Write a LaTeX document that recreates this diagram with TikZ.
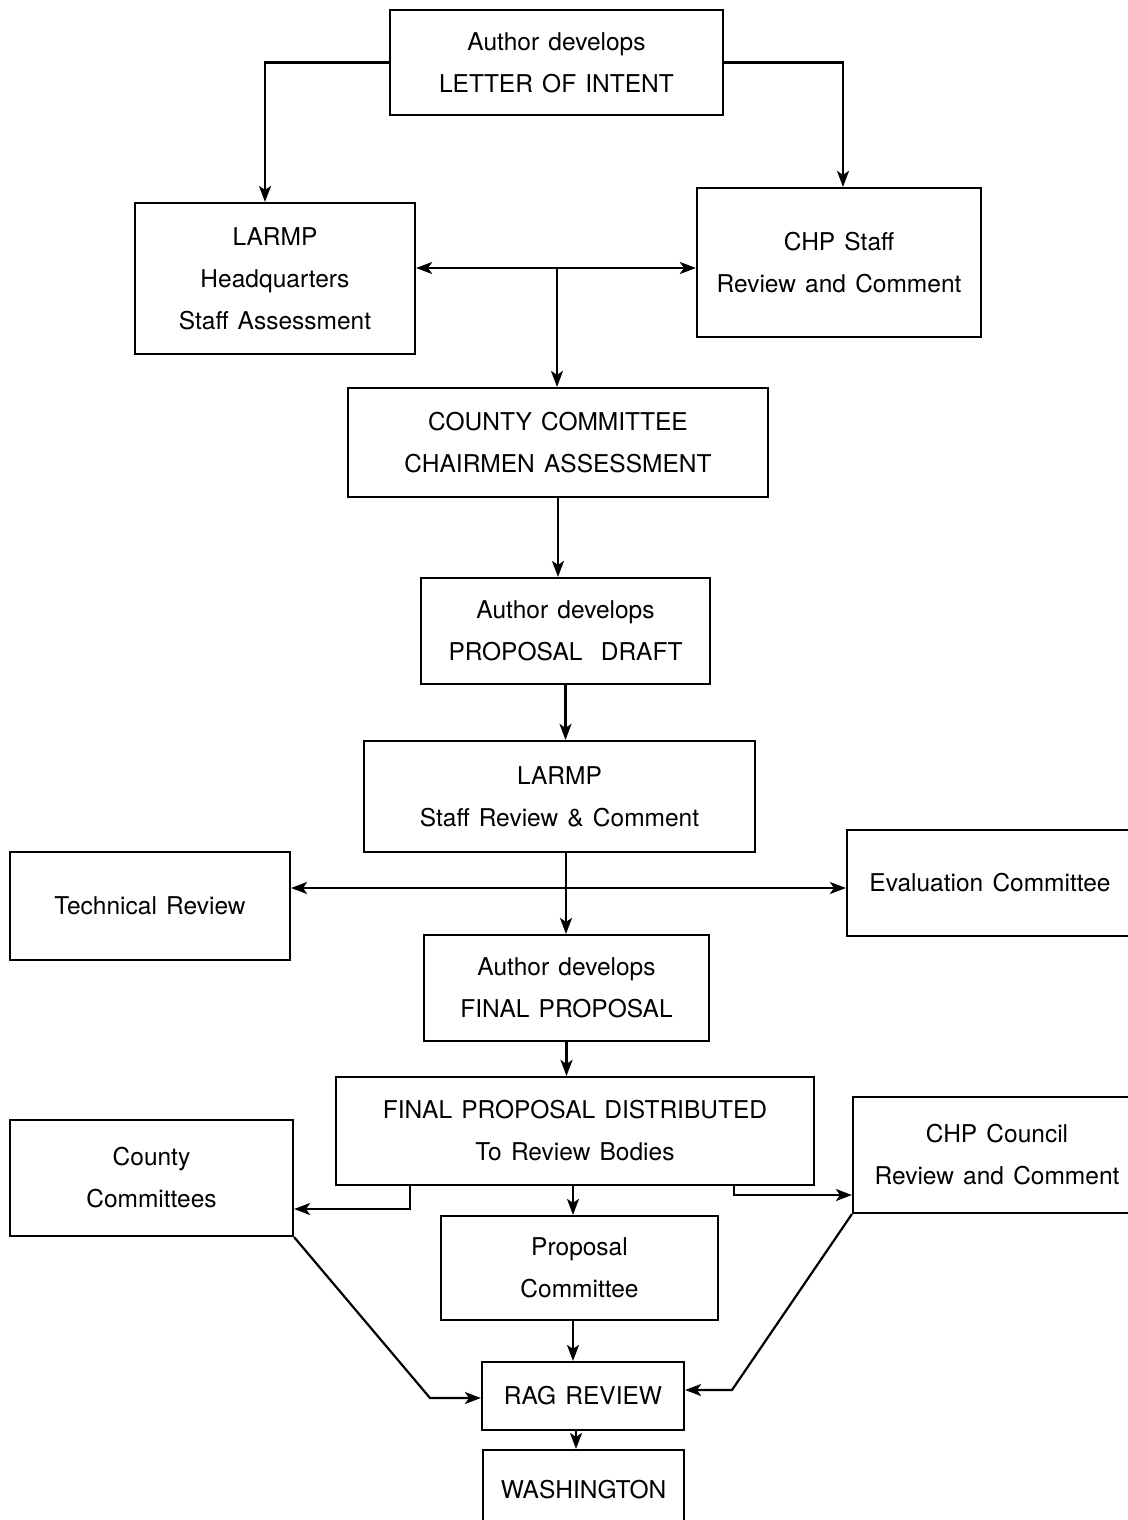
\documentclass[tikz,border=0pt]{standalone}
\usepackage{fontspec}
\setmainfont{TeX Gyre Heros}[WordSpace=1.35]
\usetikzlibrary{arrows.meta}
\newcommand\myboxfont{\fontsize{24.5}{42}\selectfont}
\begin{document}
\begin{tikzpicture}[x=1pt,y=-1pt,
  box/.style={draw, line width=2.2pt, align=center, inner sep=0pt, font=\myboxfont},
  arr/.style={line width=2.2pt, -{Stealth[length=16pt,width=12pt,inset=4pt]}},
  ln/.style={line width=2.2pt}]
\useasboundingbox (0,0) rectangle (1127,1520);
\fill[white] (0,0) rectangle (1127,1520);

\node[box, minimum width=333pt, minimum height=105pt] (loi) at (556.5,62.5) {Author develops\\LETTER OF INTENT};
\node[box, minimum width=280pt, minimum height=151pt] (hq) at (275,278.5) {LARMP\\Headquarters\\Staff Assessment};
\node[box, minimum width=284pt, minimum height=149pt] (chp) at (839,262.5) {CHP Staff\\Review and Comment};
\node[box, minimum width=420pt, minimum height=109pt] (cc) at (558,442.5) {COUNTY COMMITTEE\\CHAIRMEN ASSESSMENT};
\node[box, minimum width=289pt, minimum height=106pt] (dft) at (565.5,631) {Author develops\\PROPOSAL\ \ DRAFT};
\node[box, minimum width=391pt, minimum height=111pt] (lsr) at (559.5,796.5) {LARMP\\Staff Review \& Comment};
\node[box, minimum width=280pt, minimum height=108pt] (tech) at (150,906) {Technical Review};
\node[box, minimum width=286pt, minimum height=106pt] (eval) at (990,883) {Evaluation Committee};
\node[box, minimum width=285pt, minimum height=106pt] (fin) at (566.5,988) {Author develops\\FINAL PROPOSAL};
\node[box, minimum width=478pt, minimum height=108pt] (dist) at (575,1131) {FINAL PROPOSAL DISTRIBUTED\\To Review Bodies};
\node[box, minimum width=283pt, minimum height=116pt] (cty) at (151.5,1178) {County\\Committees};
\node[box, minimum width=288pt, minimum height=116pt] (chpc) at (997,1155) {CHP Council\\Review and Comment};
\node[box, minimum width=277pt, minimum height=104pt] (pc) at (579.5,1268) {Proposal\\Committee};
\node[box, minimum width=202pt, minimum height=68pt] (rag) at (583,1396) {RAG REVIEW};
\node[box, minimum width=201pt, minimum height=80pt] (wash) at (583.5,1490) {WASHINGTON};

\draw[arr] (loi.west) -| ([xshift=-10pt]hq.north);
\draw[arr] (loi.east) -| ([xshift=4pt]chp.north);
\coordinate (m1) at (557,268);
\draw[arr] (m1) -- (m1 -| hq.east);
\draw[arr] (m1) -- (m1 -| chp.west);
\draw[arr] (m1) -- (m1 |- cc.north);
\draw[arr] (cc.south) -- (cc.south |- dft.north);
\draw[arr] (dft.south) -- (dft.south |- lsr.north);
\coordinate (m2) at (566,888);
\draw[ln] (m2 |- lsr.south) -- (m2);
\draw[arr] (m2) -- (m2 |- fin.north);
\draw[arr] (m2) -- (m2 -| tech.east);
\draw[arr] (m2) -- (m2 -| eval.west);
\draw[arr] (fin.south) -- (fin.south |- dist.north);
\coordinate (d1) at (410,1209);
\draw[arr] (d1 |- dist.south) -- (d1) -- (d1 -| cty.east);
\coordinate (d2) at (734,1195);
\draw[arr] (d2 |- dist.south) -- (d2) -- (d2 -| chpc.west);
\coordinate (d3) at (573,1200);
\draw[arr] (d3 |- dist.south) -- (d3 |- pc.north);
\draw[arr] (d3 |- pc.south) -- (d3 |- rag.north);
\coordinate (k1) at (430,1398);
\draw[arr] (cty.south east) -- (k1) -- (k1 -| rag.west);
\coordinate (k2) at (732,1390);
\draw[arr] (chpc.south west) -- (k2) -- (k2 -| rag.east);
\coordinate (d4) at (576,1440);
\draw[arr] (d4 |- rag.south) -- (d4 |- wash.north);
\end{tikzpicture}
\end{document}
